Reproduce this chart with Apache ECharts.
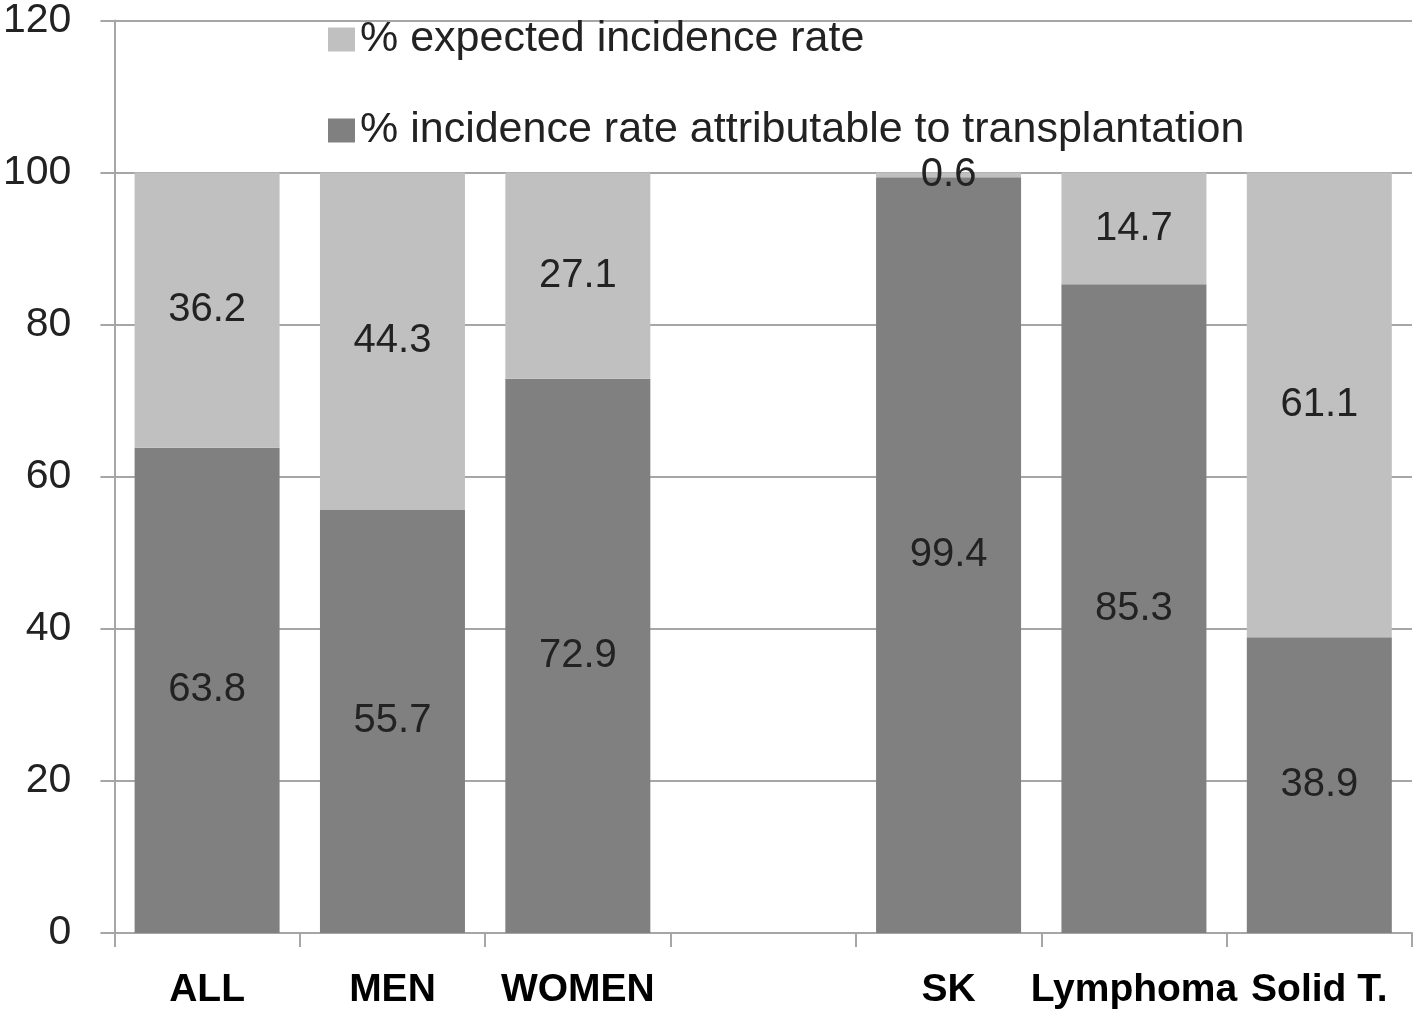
<!DOCTYPE html>
<html>
<head>
<meta charset="utf-8">
<script src="https://cdn.jsdelivr.net/npm/echarts@6/dist/echarts.min.js"></script>
<style>
  html, body { margin: 0; padding: 0; background: #fff; }
  #chart { width: 1416px; height: 1019px; }
</style>
</head>
<body>
<div id="chart"></div>
<script>
// categories (blank slot between the two groups)
var categories = ['ALL', 'MEN', 'WOMEN', '', 'SK', 'Lymphoma', 'Solid T.'];
// % incidence rate attributable to transplantation (dark, bottom)
var attributable = [63.8, 55.7, 72.9, null, 99.4, 85.3, 38.9];
// % expected incidence rate (light, top)
var expected = [36.2, 44.3, 27.1, null, 0.6, 14.7, 61.1];

var FONT = '"Liberation Sans", Arial, sans-serif';
var lineColor = '#a6a6a6';

var chart = echarts.init(document.getElementById('chart'));

var labelStyle = {
  show: true,
  position: 'inside',
  color: '#222',
  fontSize: 40,
  fontFamily: FONT,
  formatter: function (p) {
    return p.value == null ? '' : p.value.toFixed(1);
  }
};

chart.setOption({
  animation: false,
  grid: { left: 113, right: 4, top: 18, bottom: 86 },
  legend: {
    orient: 'vertical',
    left: 323,
    top: 13,
    itemGap: 48,
    itemWidth: 27,
    itemHeight: 24,
    icon: 'rect',
    data: ['% expected incidence rate', '% incidence rate attributable to transplantation'],
    textStyle: { fontSize: 43, color: '#222', fontFamily: FONT }
  },
  xAxis: {
    type: 'category',
    data: categories,
    axisLine: { lineStyle: { color: lineColor, width: 2 } },
    axisTick: { show: true, length: 14, lineStyle: { color: lineColor, width: 2 } },
    axisLabel: {
      interval: 0,
      margin: 38,
      color: '#000',
      fontSize: 39,
      fontWeight: 'bold',
      fontFamily: FONT
    }
  },
  yAxis: {
    type: 'value',
    min: 0,
    max: 120,
    interval: 20,
    axisLine: { show: true, lineStyle: { color: lineColor, width: 2 } },
    axisTick: { show: true, length: 14, lineStyle: { color: lineColor, width: 2 } },
    splitLine: { show: true, lineStyle: { color: lineColor, width: 2 } },
    axisLabel: { margin: 43, color: '#222', fontSize: 41, fontFamily: FONT }
  },
  series: [
    {
      name: '% incidence rate attributable to transplantation',
      type: 'bar',
      stack: 'total',
      barWidth: 145,
      itemStyle: { color: '#808080' },
      label: labelStyle,
      emphasis: { disabled: true },
      data: attributable
    },
    {
      name: '% expected incidence rate',
      type: 'bar',
      stack: 'total',
      barWidth: 145,
      itemStyle: { color: '#c0c0c0' },
      label: labelStyle,
      emphasis: { disabled: true },
      data: expected
    }
  ]
});
</script>
</body>
</html>
